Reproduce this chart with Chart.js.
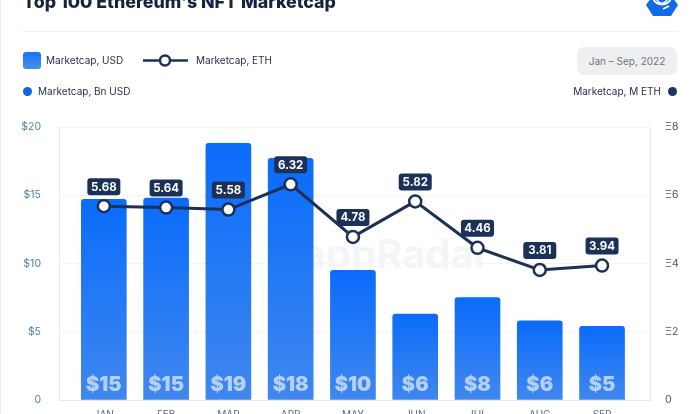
<!DOCTYPE html>
<html>
<head>
<meta charset="utf-8">
<script src="https://cdn.jsdelivr.net/npm/chart.js@4"></script>
<style>
  html, body { margin: 0; padding: 0; background: #fff; }
  #page { position: relative; width: 700px; height: 414px; overflow: hidden; font-family: Inter, Roboto, sans-serif; color: #27304a; }
  #page > div, #page > svg { position: absolute; }
  #chart { position: absolute; left: 0; top: 0; }
  .txt { font-size: 10px; line-height: 14px; white-space: nowrap; }
  .dot { width: 9px; height: 9px; border-radius: 50%; }
</style>
</head>
<body>
<div id="page">
  <canvas id="chart" width="700" height="414"></canvas>
  <div style="left:0;top:0;width:1px;height:414px;background:#eceef1"></div>
  <div style="left:23px;top:-10px;font:800 17.8px/24px Inter,sans-serif;color:#16233f;white-space:nowrap">Top 100 Ethereum's NFT Marketcap</div>
  <svg style="left:645px;top:-6px" width="34" height="23" viewBox="0 0 34 23">
    <polygon points="9,0 25,0 33,11 26,22 8,22 1,11" fill="#0f6be8"/>
    <path d="M8 4 a9.5 9.5 0 0 0 18 0" fill="none" stroke="#fff" stroke-width="2"/>
    <path d="M12 6 a5.5 5.5 0 0 0 10 0" fill="none" stroke="#fff" stroke-width="1.6"/>
    <path d="M18 15 L24 12" fill="none" stroke="#fff" stroke-width="1.6"/>
  </svg>
  <div style="left:22px;top:31px;width:656px;height:1px;background:#eef0f3"></div>
  <div style="left:23px;top:52px;width:18px;height:17px;border-radius:3px;background:linear-gradient(#1474fb,#4a8eea)"></div>
  <div class="txt" style="left:46px;top:53px">Marketcap, USD</div>
  <svg style="left:143px;top:52px" width="45" height="17">
    <line x1="0" y1="8.5" x2="45" y2="8.5" stroke="#1b3158" stroke-width="2.5"/>
    <circle cx="22" cy="8.5" r="5" fill="#fff" stroke="#1b3158" stroke-width="2.5"/>
  </svg>
  <div class="txt" style="left:196px;top:53px">Marketcap, ETH</div>
  <div style="left:577px;top:47px;width:100px;height:28px;border-radius:7px;background:#eeeff1;color:#6d7482;font-size:10px;line-height:28px;text-align:center">Jan – Sep, 2022</div>
  <div class="dot" style="left:23px;top:87px;background:#0f66e0"></div>
  <div class="txt" style="left:38px;top:84px">Marketcap, Bn USD</div>
  <div class="txt" style="right:39px;top:84px">Marketcap, M ETH</div>
  <div class="dot" style="left:668px;top:87px;background:#1d3461"></div>
</div>
<script>
const months = ["JAN", "FEB", "MAR", "APR", "MAY", "JUN", "JUL", "AUG", "SEP"];
const usdValues = [14.7, 14.8, 18.8, 17.7, 9.5, 6.3, 7.5, 5.8, 5.4];
const usdLabels = ["$15", "$15", "$19", "$18", "$10", "$6", "$8", "$6", "$5"];
const ethValues = [5.68, 5.64, 5.58, 6.32, 4.78, 5.82, 4.46, 3.81, 3.94];
const ethLabels = ["5.68", "5.64", "5.58", "6.32", "4.78", "5.82", "4.46", "3.81", "3.94"];

const navy = "#1b3158";

// faint watermark behind the bars
const watermark = {
  id: "watermark",
  beforeDatasetsDraw(chart) {
    const { ctx } = chart;
    ctx.save();
    ctx.font = "700 40px Inter, sans-serif";
    ctx.fillStyle = "#f3f5f9";
    ctx.textAlign = "center";
    ctx.textBaseline = "middle";
    ctx.fillText("DappRadar", 382, 256);
    ctx.restore();
  },
};

// $ labels inside the bars, value boxes over the line points
const valueLabels = {
  id: "valueLabels",
  afterDatasetsDraw(chart) {
    const { ctx } = chart;
    const bars = chart.getDatasetMeta(1).data;
    const points = chart.getDatasetMeta(0).data;
    ctx.save();
    ctx.textAlign = "center";
    ctx.textBaseline = "middle";
    bars.forEach((bar, i) => {
      ctx.font = "900 20px Inter, sans-serif";
      ctx.fillStyle = "rgba(255,255,255,0.62)";
      ctx.fillText(usdLabels[i], bar.x, 385);
    });
    points.forEach((pt, i) => {
      const w = 33, h = 17;
      const top = pt.y - 11 - h;
      ctx.fillStyle = navy;
      ctx.beginPath();
      ctx.roundRect(pt.x - w / 2, top, w, h, 3);
      ctx.fill();
      ctx.font = "700 11.5px Inter, sans-serif";
      ctx.fillStyle = "#fff";
      ctx.fillText(ethLabels[i], pt.x, top + h / 2 + 0.5);
    });
    ctx.restore();
  },
};

new Chart(document.getElementById("chart"), {
  data: {
    datasets: [
      {
        type: "line",
        label: "Marketcap, ETH",
        data: ethValues.map((v, i) => ({ x: i, y: v })),
        yAxisID: "yEth",
        order: 1,
        borderColor: navy,
        borderWidth: 3,
        pointRadius: 6,
        pointBackgroundColor: "#fff",
        pointBorderColor: navy,
        pointBorderWidth: 2.5,
        tension: 0,
      },
      {
        type: "bar",
        label: "Marketcap, USD",
        data: usdValues.map((v, i) => ({ x: i, y: v })),
        yAxisID: "yUsd",
        order: 2,
        barThickness: 45,
        borderRadius: { topLeft: 3, topRight: 3 },
        borderSkipped: "bottom",
        backgroundColor(c) {
          const area = c.chart.chartArea;
          if (!area || !c.raw) return "#1474fb";
          const top = c.chart.scales.yUsd.getPixelForValue(c.raw.y);
          const g = c.chart.ctx.createLinearGradient(0, top, 0, area.bottom);
          g.addColorStop(0, "#0a6cfb");
          g.addColorStop(1, "#4087ee");
          return g;
        },
      },
    ],
  },
  options: {
    responsive: false,
    animation: false,
    layout: { padding: { top: 127 } },
    plugins: { legend: { display: false }, tooltip: { enabled: false } },
    scales: {
      x: {
        type: "linear",
        offset: false,
        min: -0.72,
        max: 8.77,
        afterBuildTicks(scale) {
          scale.ticks = months.map((m, i) => ({ value: i }));
        },
        afterFit(scale) {
          scale.height = 14;
        },
        grid: { display: false, drawTicks: false },
        border: { color: "#e6e8ec" },
        ticks: {
          padding: 9,
          maxRotation: 0,
          color: "#5b6b80",
          font: { family: "Inter", size: 10 },
          callback: (v) => months[v],
        },
      },
      yUsd: {
        position: "left",
        min: 0,
        max: 20,
        afterFit(scale) {
          scale.width = 59;
          scale.paddingTop = 0;
          scale.paddingBottom = 0;
        },
        grid: { color: "#f3f4f7", drawTicks: false },
        border: { color: "#e6e8ec" },
        ticks: {
          stepSize: 5,
          padding: 18,
          color: "#4f7f9f",
          font: { family: "Inter", size: 10.5 },
          callback: (v) => (v === 0 ? "0" : "$" + v),
        },
      },
      yEth: {
        position: "right",
        min: 0,
        max: 8,
        afterFit(scale) {
          scale.width = 50;
          scale.paddingTop = 0;
          scale.paddingBottom = 0;
        },
        grid: { display: false, drawTicks: false },
        border: { color: "#e6e8ec" },
        ticks: {
          stepSize: 2,
          padding: 15,
          color: "#4b5563",
          font: { family: "Inter", size: 10.5 },
          callback: (v) => (v === 0 ? "0" : "Ξ" + v),
        },
      },
    },
  },
  plugins: [watermark, valueLabels],
});
</script>
</body>
</html>
